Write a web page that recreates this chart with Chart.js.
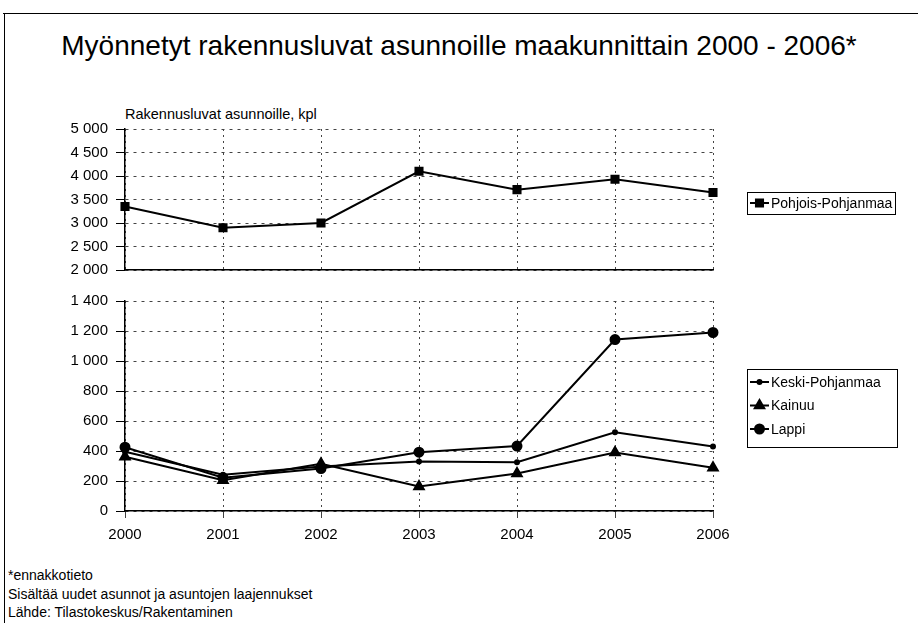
<!DOCTYPE html>
<html><head><meta charset="utf-8">
<script src="https://cdn.jsdelivr.net/npm/chart.js@4.4.1/dist/chart.umd.min.js"></script>
<style>
html,body{margin:0;padding:0;background:#fff;}
#wrap{position:relative;width:918px;height:623px;overflow:hidden;font-family:"Liberation Sans",Arial,sans-serif;color:#000;background:#fff;}
canvas{position:absolute;left:0;top:0;}
.fr{position:absolute;background:#000;}
.t{position:absolute;white-space:nowrap;}
</style></head>
<body><div id="wrap">
<div class="fr" style="left:3px;top:13px;width:915px;height:1px"></div>
<div class="fr" style="left:4px;top:13px;width:1px;height:610px"></div>
<div class="t" style="left:0;width:918px;text-align:center;top:29px;font-size:28px;line-height:34px;">Myönnetyt rakennusluvat asunnoille maakunnittain 2000 - 2006*</div>
<div class="t" style="left:125px;top:106px;font-size:14.5px;">Rakennusluvat asunnoille, kpl</div>
<div class="t" style="left:8px;top:566px;font-size:14px;line-height:18.5px;">*ennakkotieto<br>Sisältää uudet asunnot ja asuntojen laajennukset<br>Lähde: Tilastokeskus/Rakentaminen</div>
<canvas id="c1" width="918" height="623"></canvas>
<canvas id="c2" width="918" height="623"></canvas>
</div>
<script>
const years = ['2000','2001','2002','2003','2004','2005','2006'];
const pohjoisPohjanmaa = [3350, 2900, 3000, 4100, 3710, 3930, 3650];
const keskiPohjanmaa = [395, 242, 296, 330, 325, 525, 430];
const kainuu = [362, 205, 315, 163, 250, 390, 288];
const lappi = [425, 222, 283, 392, 433, 1143, 1190];
const upperTicks = {min: 2000, max: 5000, step: 500};
const lowerTicks = {min: 0, max: 1400, step: 200};

const FONT = '"Liberation Sans", Arial, sans-serif';
const fmt = v => String(v).replace(/\B(?=(\d{3})+(?!\d))/g, ' ');

const boxLegend = {
  id: 'boxLegend',
  afterDraw(chart, args, o) {
    const ctx = chart.ctx;
    ctx.save();
    ctx.strokeStyle = '#000'; ctx.lineWidth = 1;
    ctx.strokeRect(o.x + 0.5, o.y + 0.5, o.w, o.h);
    ctx.font = '14px ' + FONT;
    ctx.fillStyle = '#000'; ctx.textBaseline = 'middle'; ctx.textAlign = 'left';
    chart.data.datasets.forEach((ds, i) => {
      const cy = o.y + o.first + i * o.rowH;
      ctx.beginPath(); ctx.lineWidth = 2; ctx.strokeStyle = '#000';
      ctx.moveTo(o.x + 3, cy); ctx.lineTo(o.x + 22, cy); ctx.stroke();
      ctx.fillStyle = '#000';
      Chart.helpers.drawPoint(ctx, {pointStyle: ds.pointStyle, radius: ds.pointRadius, borderWidth: 1, rotation: 0}, o.x + 12.5, cy);
      ctx.fillText(ds.label, o.x + 24, cy + 1);
    });
    ctx.restore();
  }
};

function mkScales(t, showX, yw) {
  return {
    x: {
      grid: {color: '#444', lineWidth: 1, drawTicks: showX, tickLength: 7, tickColor: '#000', tickBorderDash: [1, 0]},
      border: {display: true, color: '#000', width: 1.5, dash: [2, 4]},
      ticks: {display: showX, color: '#000', font: {family: FONT, size: 15}, padding: 8, maxRotation: 0},
      afterFit: s => { s.height = showX ? 40 : 0; }
    },
    y: {
      min: t.min, max: t.max,
      grid: {color: '#444', lineWidth: 1, tickLength: 9, tickColor: '#000', tickBorderDash: [1, 0]},
      border: {display: true, color: '#000', width: 1.5, dash: [3, 5]},
      ticks: {stepSize: t.step, color: '#000', font: {family: FONT, size: 15}, padding: 8, callback: v => fmt(v)},
      afterFit: s => { s.width = yw; }
    }
  };
}

const common = {
  responsive: false, animation: false,
  plugins: {legend: {display: false}, tooltip: {enabled: false}, title: {display: false}}
};

new Chart(document.getElementById('c1'), {
  type: 'line',
  data: {labels: years, datasets: [
    {label: 'Pohjois-Pohjanmaa', data: pohjoisPohjanmaa, borderColor: '#000', backgroundColor: '#000', borderWidth: 2, pointStyle: 'rect', pointRadius: 5, tension: 0}
  ]},
  options: Object.assign({}, common, {
    layout: {padding: {left: 0, top: 129, right: 205, bottom: 353}},
    scales: mkScales(upperTicks, false, 125),
    plugins: Object.assign({}, common.plugins, {boxLegend: {x: 747, y: 192, w: 148, h: 22, first: 11, rowH: 23}})
  }),
  plugins: [boxLegend]
});

new Chart(document.getElementById('c2'), {
  type: 'line',
  data: {labels: years, datasets: [
    {label: 'Keski-Pohjanmaa', data: keskiPohjanmaa, borderColor: '#000', backgroundColor: '#000', borderWidth: 2, pointStyle: 'circle', pointRadius: 2, tension: 0},
    {label: 'Kainuu', data: kainuu, borderColor: '#000', backgroundColor: '#000', borderWidth: 2, pointStyle: 'triangle', pointRadius: 5.5, tension: 0},
    {label: 'Lappi', data: lappi, borderColor: '#000', backgroundColor: '#000', borderWidth: 2, pointStyle: 'circle', pointRadius: 4.5, tension: 0}
  ]},
  options: Object.assign({}, common, {
    layout: {padding: {left: 0, top: 301, right: 205, bottom: 72}},
    scales: mkScales(lowerTicks, true, 125),
    plugins: Object.assign({}, common.plugins, {boxLegend: {x: 747, y: 369, w: 150, h: 78, first: 13, rowH: 23.5}})
  }),
  plugins: [boxLegend]
});
</script>
</body></html>
